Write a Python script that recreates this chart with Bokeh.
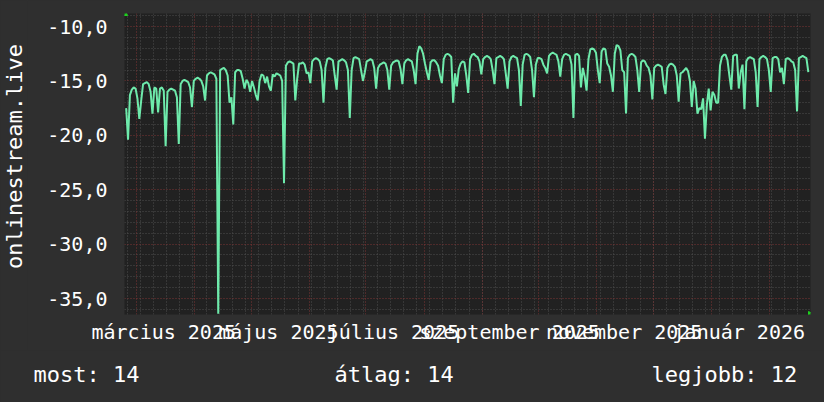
import datetime as dt
import math
from bokeh.plotting import figure
from bokeh.layouts import column, row
from bokeh.models import FixedTicker, Grid, Label, Arrow, NormalHead, Range1d, ColumnDataSource
from bokeh.embed import file_html
from bokeh.resources import INLINE

# ---------------- data ----------------
first_day = "2025-02-23"   # first sample (a Sunday); one value per day
# one row per week: Sun, Mon, Tue, Wed, Thu, Fri, Sat
weeks = [
    [-17.5, -20.4, -16.3, -15.8, -15.6, -15.7, -16.6],
    [-18.5, -16.8, -15.3, -15.2, -15.1, -15.3, -16.0],
    [-18.0, -15.6, -15.7, -17.9, -15.7, -15.6, -15.9],
    [-21.0, -16.0, -15.8, -15.7, -15.8, -15.9, -16.5],
    [-20.8, -15.3, -15.0, -14.9, -15.0, -15.1, -15.6],
    [-17.4, -15.0, -14.8, -14.7, -14.8, -15.0, -15.5],
    [-16.8, -14.5, -14.3, -14.2, -14.3, -14.4, -14.8],
    [-36.4, -14.0, -13.9, -13.8, -14.0, -14.5, -17.0],
    [-16.5, -19.0, -14.2, -14.0, -14.0, -14.1, -14.8],
    [-15.7, -14.9, -15.2, -16.0, -15.0, -15.6, -16.3],
    [-16.8, -15.0, -14.4, -14.5, -15.2, -14.6, -15.5],
    [-15.9, -14.4, -14.6, -14.3, -14.4, -14.5, -15.0],
    [-24.4, -13.6, -13.3, -13.2, -13.3, -13.4, -16.8],
    [-14.8, -13.4, -13.4, -13.3, -13.5, -14.3, -14.2],
    [-15.2, -13.2, -13.0, -12.9, -13.0, -13.2, -14.0],
    [-17.0, -13.8, -13.0, -12.9, -13.0, -13.1, -14.5],
    [-15.8, -13.2, -13.1, -13.0, -13.1, -13.3, -14.0],
    [-18.4, -14.0, -12.9, -12.8, -12.9, -13.0, -14.0],
    [-15.0, -14.2, -13.2, -13.1, -13.0, -13.1, -13.8],
    [-15.7, -13.8, -13.5, -13.4, -13.3, -13.4, -14.0],
    [-15.8, -13.6, -13.3, -13.2, -13.1, -13.2, -13.9],
    [-15.3, -13.4, -13.1, -13.0, -13.1, -13.2, -14.0],
    [-15.3, -12.5, -11.8, -12.0, -12.5, -13.4, -14.2],
    [-14.9, -13.3, -13.1, -13.1, -13.3, -13.6, -14.5],
    [-15.2, -13.0, -12.6, -12.5, -12.6, -12.8, -17.0],
    [-14.3, -15.5, -13.9, -13.4, -13.2, -13.3, -14.5],
    [-16.1, -13.0, -12.6, -12.5, -12.7, -12.8, -13.2],
    [-14.4, -13.0, -12.8, -12.7, -12.8, -13.0, -14.0],
    [-15.3, -12.9, -12.8, -12.7, -12.8, -13.0, -14.3],
    [-15.7, -13.2, -12.8, -12.7, -12.8, -12.9, -14.0],
    [-17.3, -13.5, -12.6, -12.5, -12.6, -12.8, -14.0],
    [-16.5, -13.5, -12.9, -12.9, -13.0, -13.5, -13.8],
    [-14.3, -12.7, -12.5, -12.4, -12.5, -12.6, -13.2],
    [-14.6, -13.0, -12.6, -12.5, -12.6, -12.7, -13.5],
    [-18.4, -12.6, -12.5, -12.7, -15.6, -13.8, -14.6],
    [-15.9, -13.0, -12.1, -12.0, -12.1, -12.4, -14.0],
    [-15.2, -12.3, -12.0, -12.1, -13.4, -13.7, -14.5],
    [-16.0, -12.5, -11.7, -11.8, -12.2, -14.0, -14.2],
    [-18.0, -12.9, -12.6, -12.5, -12.6, -12.8, -14.0],
    [-16.0, -13.3, -13.1, -13.2, -13.6, -13.8, -14.5],
    [-16.7, -13.8, -13.6, -13.5, -13.6, -13.7, -15.3],
    [-16.2, -13.8, -13.5, -13.4, -13.5, -13.7, -14.5],
    [-16.9, -14.3, -14.2, -14.0, -13.8, -14.1, -15.0],
    [-17.4, -15.0, -15.7, -18.0, -17.5, -17.6, -16.6],
    [-20.3, -17.2, -15.7, -17.7, -16.0, -16.3, -17.0],
    [-17.0, -13.6, -12.8, -12.6, -12.6, -13.1, -14.5],
    [-15.8, -12.7, -12.6, -12.6, -15.7, -14.2, -13.5],
    [-17.6, -13.2, -12.9, -12.8, -12.9, -13.0, -14.2],
    [-17.4, -13.0, -12.8, -12.7, -12.8, -13.0, -14.0],
    [-16.0, -12.9, -12.8, -12.8, -13.0, -14.2, -13.8],
    [-15.3, -13.0, -12.9, -13.0, -13.2, -13.3, -14.0],
    [-17.8, -12.9, -12.8, -12.7, -12.8, -12.9, -14.2],
]

y_ticks = [-35, -30, -25, -20, -15, -10]
y_tick_labels = ["-35,0", "-30,0", "-25,0", "-20,0", "-15,0", "-10,0"]
x_label_months = ["2025-03", "2025-05", "2025-07", "2025-09", "2025-11", "2026-01"]
x_tick_labels = ["március 2025", "május 2025", "július 2025",
                 "szeptember 2025", "november 2025", "január 2026"]
y_axis_title = "onlinestream.live"
legend_texts = ["most: 14", "átlag: 14", "legjobb: 12"]

# ---------------- build ----------------
values = [v for w in weeks for v in w]
d0 = dt.datetime.strptime(first_day, "%Y-%m-%d")
dates = [d0 + dt.timedelta(days=i, hours=12) for i in range(len(values))]
src = ColumnDataSource(dict(t=dates, v=values))

EPOCH = dt.datetime(1970, 1, 1)
def ms(d):
    return (d - EPOCH).total_seconds() * 1000.0

x_start = dt.datetime(2025, 2, 22, 14, 46)
x_end = dt.datetime(2026, 2, 22, 15, 50)
y_lo, y_hi = -36.47, -8.8

BG = "#2f2f2f"
FONT = "DejaVu Sans Mono"
W = 824
MAIN_H = 350
LEG_H = 52
TITLE_W = 27

p = figure(width=W - TITLE_W, height=MAIN_H, x_axis_type="datetime",
           x_range=Range1d(x_start, x_end), y_range=Range1d(y_lo, y_hi),
           output_backend="svg", toolbar_location=None,
           background_fill_color="#212121", border_fill_color=BG,
           min_border_left=124 - TITLE_W, min_border_right=14, min_border_top=13,
           min_border_bottom=MAIN_H - 314, outline_line_color=None)
p.frame_align = False
p.grid.visible = False

# grid tick positions
mondays, months = [], []
d = dt.datetime(2025, 2, 24)
while d < x_end:
    mondays.append(ms(d)); d += dt.timedelta(days=7)
for yy, mm in [(2025, m) for m in range(3, 13)] + [(2026, 1), (2026, 2)]:
    months.append(ms(dt.datetime(yy, mm, 1)))
minor_y = [float(v) for v in range(-36, -8) if v % 5 != 0]

for dim, tks, col in [(0, mondays, "#4e4e4e"), (1, minor_y, "#4e4e4e"),
                      (0, months, "#7c3434"), (1, y_ticks, "#7c3434")]:
    p.add_layout(Grid(dimension=dim, ticker=FixedTicker(ticks=tks),
                      grid_line_color=col, grid_line_dash="1 2",
                      grid_line_width=1))

p.line("t", "v", source=src, line_color="#6eeaab", line_width=2)

# axes
label_ticks = []
for s in x_label_months:
    m0 = dt.datetime.strptime(s, "%Y-%m")
    label_ticks.append(ms(m0 + dt.timedelta(days=14, hours=12)))
p.xaxis.ticker = FixedTicker(ticks=label_ticks)
p.xaxis.major_label_overrides = {t: l for t, l in zip(label_ticks, x_tick_labels)}
p.yaxis.ticker = FixedTicker(ticks=y_ticks)
p.yaxis.major_label_overrides = {t: l for t, l in zip(y_ticks, y_tick_labels)}
for ax in (p.xaxis, p.yaxis):
    ax.axis_line_color = None
    ax.major_tick_line_color = None
    ax.minor_tick_line_color = None
    ax.major_tick_out = 0
    ax.major_tick_in = 0
    ax.minor_tick_out = 0
    ax.minor_tick_in = 0
    ax.major_label_text_font = FONT
    ax.major_label_text_font_size = "20px"
    ax.major_label_text_color = "#ffffff"
p.xaxis.major_label_standoff = 5
p.yaxis.major_label_standoff = 17

# axis-end arrows (rrdtool style)
span_ms = ms(x_end) - ms(x_start)
ms_per_px = span_ms / 686.0
u_per_px = (y_hi - y_lo) / 301.0
GREEN = "#1ed21e"
p.add_layout(Arrow(end=NormalHead(size=6, fill_color=GREEN, line_color=GREEN),
                   x_start=x_start, x_end=x_start,
                   y_start=y_hi - 1 * u_per_px, y_end=y_hi + 4 * u_per_px,
                   line_alpha=0))
p.add_layout(Arrow(end=NormalHead(size=6, fill_color=GREEN, line_color=GREEN),
                   x_start=ms(x_end) - 1 * ms_per_px, x_end=ms(x_end) + 4 * ms_per_px,
                   y_start=y_lo, y_end=y_lo, line_alpha=0))

# vertical title strip at the far left (1 data unit = 1 px)
ttl = figure(width=TITLE_W, height=MAIN_H, x_range=Range1d(0, TITLE_W),
             y_range=Range1d(0, MAIN_H), output_backend="svg", toolbar_location=None,
             x_axis_location=None, y_axis_location=None,
             background_fill_color=BG, border_fill_color=BG,
             min_border=0, outline_line_color=None)
ttl.frame_align = False
ttl.grid.visible = False
ttl.add_layout(Label(x=TITLE_W / 2, y=MAIN_H - 156, text=y_axis_title, angle=math.pi / 2,
                     text_font=FONT, text_font_size="22px", text_color="#ffffff",
                     text_align="center", text_baseline="middle"))

# legend line under the chart (its own strip, 1 data unit = 1 px)
leg = figure(width=W, height=LEG_H, x_range=Range1d(0, W), y_range=Range1d(0, LEG_H),
             output_backend="svg", toolbar_location=None,
             x_axis_location=None, y_axis_location=None,
             background_fill_color=BG, border_fill_color=BG,
             min_border=0, outline_line_color=None)
leg.frame_align = False
leg.grid.visible = False
legend_px = [33, 334, 651]
baseline_from_top = 374 - MAIN_H
for txt, px in zip(legend_texts, legend_px):
    leg.add_layout(Label(x=px, y=LEG_H - baseline_from_top, text=txt,
                         text_font=FONT, text_font_size="22px",
                         text_color="#ffffff", text_align="left",
                         text_baseline="alphabetic"))

layout = column(row(ttl, p, spacing=0), leg, spacing=0)
html = file_html(layout, INLINE, title="onlinestream.live")
html = html.replace("</head>", "<style>html,body{background:%s;}</style></head>" % BG, 1)
open("out.html", "w").write(html)
